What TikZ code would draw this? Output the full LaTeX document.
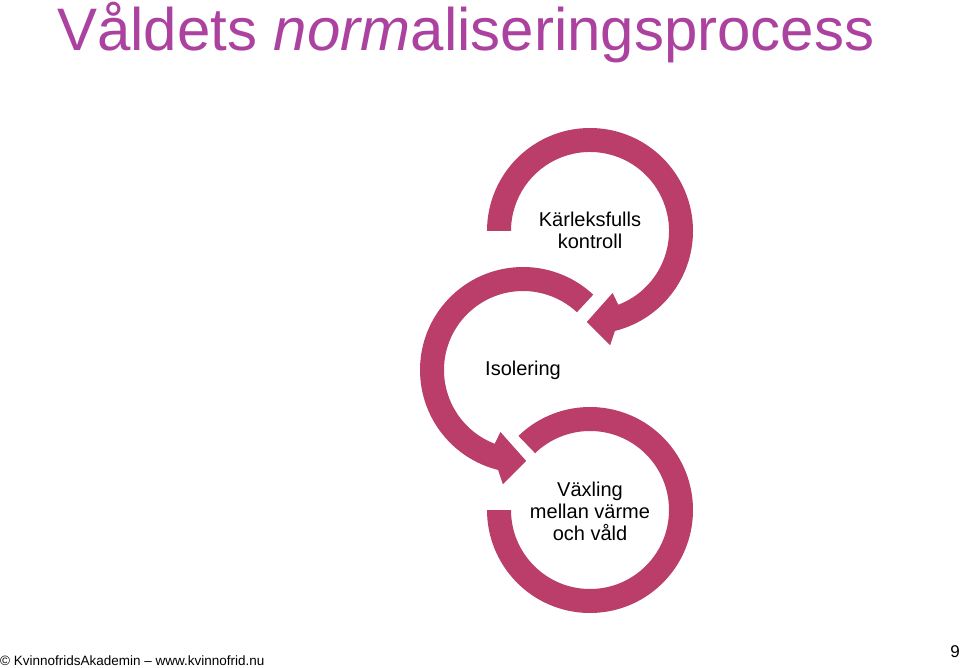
\documentclass[tikz,border=0pt]{standalone}
\usepackage{fontspec}
\setmainfont{Liberation Sans}
\definecolor{ringcol}{RGB}{186,61,106}
\definecolor{titlecol}{RGB}{172,66,160}
\tikzset{
  ring/.style={fill=ringcol},
  label/.style={align=center,font=\fontsize{20}{22}\selectfont,text=black,inner sep=0pt}
}
\begin{document}
\begin{tikzpicture}[x=1pt,y=1pt]
\useasboundingbox (0,0) rectangle (960,667);
% title
\node[anchor=base west,inner sep=0pt,text=titlecol,font=\fontsize{60}{60}\selectfont] (title) at (57,616) {Våldets \textit{norm}aliseringsprocess};
% ring 1
\begin{scope}[shift={(590,436)}]
\fill[ring] (180:103) arc[start angle=180,end angle=-76,radius=103] -- (-80:116) -- (-92:91) -- (-70:66) -- (-69:79) arc[start angle=-69,end angle=180,radius=79] -- cycle;
\end{scope}
% ring 2
\begin{scope}[shift={(523,297)}]
\fill[ring] (47:103) arc[start angle=47,end angle=256,radius=103] -- (260:116) -- (272:91) -- (250:66) -- (249:79) arc[start angle=249,end angle=47,radius=79] -- cycle;
\end{scope}
% ring 3
\begin{scope}[shift={(590,157)}]
\fill[ring] (134:103) arc[start angle=134,end angle=-180,radius=103] -- (180:79) arc[start angle=-180,end angle=134,radius=79] -- cycle;
\end{scope}
\node[label] (k) at (590,437) {Kärleksfulls\\kontroll};
\node[label] (i) at (523,297) {Isolering};
\node[label] (v) at (590,156) {Växling\\mellan värme\\och våld};
% footer
\node[anchor=base west,inner sep=0pt,font=\fontsize{13.5}{14}\selectfont] (foot) at (0,2) {© KvinnofridsAkademin – www.kvinnofrid.nu};
\node[anchor=base east,inner sep=0pt,font=\fontsize{17}{17}\selectfont] (page) at (960,10) {9};
\end{tikzpicture}
\end{document}
